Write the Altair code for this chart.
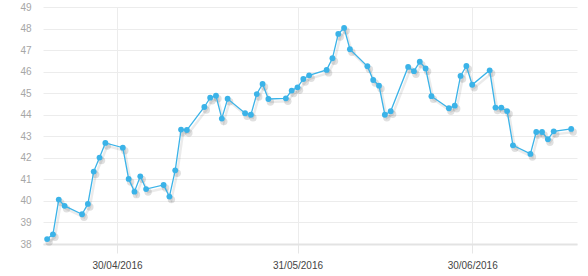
import altair as alt
import pandas as pd

dates = [
    "2016-04-18", "2016-04-19", "2016-04-20", "2016-04-21",
    "2016-04-24", "2016-04-25", "2016-04-26", "2016-04-27", "2016-04-28",
    "2016-05-01", "2016-05-02", "2016-05-03", "2016-05-04", "2016-05-05",
    "2016-05-08", "2016-05-09", "2016-05-10", "2016-05-11", "2016-05-12",
    "2016-05-15", "2016-05-16", "2016-05-17", "2016-05-18", "2016-05-19",
    "2016-05-22", "2016-05-23", "2016-05-24", "2016-05-25", "2016-05-26",
    "2016-05-29", "2016-05-30", "2016-05-31", "2016-06-01", "2016-06-02",
    "2016-06-05", "2016-06-06", "2016-06-07", "2016-06-08", "2016-06-09",
    "2016-06-12", "2016-06-13", "2016-06-14", "2016-06-15", "2016-06-16",
    "2016-06-19", "2016-06-20", "2016-06-21", "2016-06-22", "2016-06-23",
    "2016-06-26", "2016-06-27", "2016-06-28", "2016-06-29", "2016-06-30",
    "2016-07-03", "2016-07-04", "2016-07-05", "2016-07-06", "2016-07-07",
    "2016-07-10", "2016-07-11", "2016-07-12", "2016-07-13", "2016-07-14",
    "2016-07-17",
]
values = [
    38.23, 38.45, 40.06, 39.77,
    39.38, 39.86, 41.36, 42.01, 42.69,
    42.47, 41.02, 40.43, 41.14, 40.55,
    40.74, 40.20, 41.42, 43.31, 43.29,
    44.36, 44.79, 44.88, 43.82, 44.74,
    44.07, 44.00, 44.96, 45.43, 44.73,
    44.76, 45.12, 45.27, 45.66, 45.83,
    46.08, 46.62, 47.75, 48.03, 47.04,
    46.25, 45.61, 45.35, 44.00, 44.16,
    46.22, 46.02, 46.46, 46.15, 44.86,
    44.30, 44.42, 45.80, 46.26, 45.39,
    46.06, 44.33, 44.33, 44.17, 42.58,
    42.18, 43.20, 43.20, 42.86, 43.23,
    43.34,
]
x_ticks = ["2016-04-30T00:00:00", "2016-05-31T00:00:00", "2016-06-30T00:00:00"]
y_ticks = list(range(38, 50))

df = pd.DataFrame({"date": [d + "T00:00:00" for d in dates], "value": values})

x_enc = alt.X(
    "date:T",
    scale=alt.Scale(domain=["2016-04-17T07:00:00", "2016-07-18T00:00:00"]),
    axis=alt.Axis(
        values=x_ticks,
        format="%d/%m/%Y",
        title=None,
        labelFont="Liberation Sans",
        labelFontSize=10,
        labelColor="#444444",
        tickColor="#e6e6e6",
        tickSize=9,
        labelPadding=7,
        domainColor="#e3e3e3",
        domainWidth=2,
        gridColor="#ececec",
        labelFlush=False,
    ),
)
y_enc = alt.Y(
    "value:Q",
    scale=alt.Scale(domain=[38, 49], nice=False, zero=False),
    axis=alt.Axis(
        values=y_ticks,
        title=None,
        labelFont="Liberation Sans",
        labelFontSize=10,
        labelColor="#a6a6a6",
        ticks=False,
        domain=False,
        labelPadding=12,
        gridColor="#ececec",
    ),
)

base = alt.Chart(df).encode(x=x_enc, y=y_enc)

shadow_line = base.mark_line(color="#000000", opacity=0.08, strokeWidth=2.5, xOffset=2, yOffset=3)
shadow_pts = base.mark_circle(color="#000000", opacity=0.12, size=55, xOffset=2, yOffset=3)
line = base.mark_line(color="#3bb3e8", strokeWidth=1.3)
pts = base.mark_circle(color="#3bb3e8", opacity=1, size=34)

chart = alt.layer(shadow_line, shadow_pts, line, pts).properties(
    width=534,
    height=237,
    autosize=alt.AutoSizeParams(type="none"),
    padding={"left": 43, "top": 7, "right": 11, "bottom": 32},
).configure_view(stroke=None).configure_axis(labelOverlap=False)

chart.save("out.html", embed_options={"renderer": "svg", "actions": False})
